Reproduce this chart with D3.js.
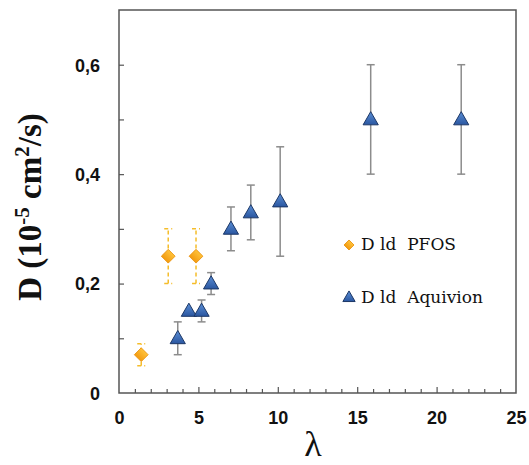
<!DOCTYPE html>
<html><head><meta charset="utf-8">
<script src="https://cdn.jsdelivr.net/npm/d3@7"></script>
<style>body{margin:0;background:#fff}svg{display:block}</style>
</head><body>
<script>
// Data
const pfosLambda = [1.4, 3.1, 4.85];
const pfosD      = [0.07, 0.25, 0.25];
const pfosErr    = [0.02, 0.05, 0.05];

const aqLambda = [3.7, 4.4, 5.2, 5.8, 7.05, 8.3, 10.15, 15.85, 21.55];
const aqD      = [0.10, 0.15, 0.15, 0.20, 0.30, 0.33, 0.35, 0.50, 0.50];
const aqErr    = [0.03, 0.0, 0.02, 0.02, 0.04, 0.05, 0.10, 0.10, 0.10];

const xTicks = [0, 5, 10, 15, 20, 25];
const yTicks = [0, 0.2, 0.4, 0.6];
const legendLabels = ["D ld  PFOS", "D ld  Aquivion"];

const W = 529, H = 465;
const mLeft = 119, mRight = 516, mTop = 10, mBottom = 393;

const svg = d3.select("body").append("svg").attr("width", W).attr("height", H);
const defs = svg.append("defs");
const g1 = defs.append("linearGradient").attr("id","triG").attr("x1",0).attr("y1",0).attr("x2",0).attr("y2",1);
g1.append("stop").attr("offset","0%").attr("stop-color","#5b8fd6");
g1.append("stop").attr("offset","100%").attr("stop-color","#2a56a0");
const g2 = defs.append("linearGradient").attr("id","diaG").attr("x1",0).attr("y1",0).attr("x2",0).attr("y2",1);
g2.append("stop").attr("offset","0%").attr("stop-color","#ffc23a");
g2.append("stop").attr("offset","100%").attr("stop-color","#f29a10");

const x = d3.scaleLinear().domain([0, 25]).range([mLeft, mRight]);
const y = d3.scaleLinear().domain([0, 0.7]).range([mBottom, mTop]);

const axisColor = "#555";
// frame
svg.append("rect").attr("x", mLeft).attr("y", mTop).attr("width", mRight-mLeft).attr("height", mBottom-mTop)
  .attr("fill","none").attr("stroke",axisColor).attr("stroke-width",1.5);

// x ticks (inward)
const xAxis = svg.append("g").attr("transform",`translate(0,${mBottom})`)
  .call(d3.axisTop(x).tickValues(d3.range(1, 25)).tickSize(4).tickFormat(""));
xAxis.select(".domain").remove();
xAxis.selectAll("line").attr("stroke",axisColor).attr("stroke-width",1.2)
  .attr("y2", d => d % 5 === 0 ? -6 : -4);
// x labels
const xLab = svg.append("g").attr("transform",`translate(0,${mBottom})`)
  .call(d3.axisBottom(x).tickValues(xTicks).tickSize(0).tickPadding(31).tickFormat(d3.format("d")));
xLab.select(".domain").remove();
xLab.selectAll("text").attr("font-family","Arial, 'Liberation Sans', sans-serif").attr("font-weight","bold")
  .attr("font-size",18).attr("fill","#111").attr("dy",0);

// y ticks (inward)
const yAxis = svg.append("g").attr("transform",`translate(${mLeft},0)`)
  .call(d3.axisRight(y).tickValues([0.1,0.2,0.3,0.4,0.5,0.6]).tickSize(5).tickFormat(""));
yAxis.select(".domain").remove();
yAxis.selectAll("line").attr("stroke",axisColor).attr("stroke-width",1.2);
const yLab = svg.append("g").attr("transform",`translate(${mLeft},0)`)
  .call(d3.axisLeft(y).tickValues(yTicks).tickSize(0).tickPadding(19)
    .tickFormat(d => d === 0 ? "0" : d3.format(".1f")(d).replace(".", ",")));
yLab.select(".domain").remove();
yLab.selectAll("text").attr("font-family","Arial, 'Liberation Sans', sans-serif").attr("font-weight","bold")
  .attr("font-size",18).attr("fill","#111").attr("dy","0.35em");

// axis titles
svg.append("text").attr("x", 313).attr("y", 456).attr("text-anchor","middle")
  .attr("font-family","'Liberation Serif', 'DejaVu Serif', serif").attr("font-size",36).attr("fill","#111")
  .text("λ");
const yt = svg.append("text").attr("transform","translate(41,207) rotate(-90)").attr("text-anchor","middle")
  .attr("font-family","'Liberation Serif', serif").attr("font-weight","bold").attr("font-size",33).attr("fill","#111");
yt.append("tspan").text("D (10");
yt.append("tspan").attr("dy",-12).attr("font-size",21).text("-5");
yt.append("tspan").attr("dy",12).text(" cm");
yt.append("tspan").attr("dy",-12).attr("font-size",21).text("2");
yt.append("tspan").attr("dy",12).text("/s)");

// error bars
function errBars(xs, ys, es, color, dash, cap) {
  const g = svg.append("g");
  xs.forEach((lx, i) => {
    if (es[i] <= 0) return;
    const cx = x(lx), y1 = y(ys[i] - es[i]), y2 = y(ys[i] + es[i]);
    g.append("line").attr("x1",cx).attr("x2",cx).attr("y1",y1).attr("y2",y2)
      .attr("stroke",color).attr("stroke-width",1.5).attr("stroke-dasharray",dash);
    [y1,y2].forEach(yy => g.append("line").attr("x1",cx-cap).attr("x2",cx+cap).attr("y1",yy).attr("y2",yy)
      .attr("stroke",color).attr("stroke-width",1.5).attr("stroke-dasharray",dash));
  });
}
errBars(aqLambda, aqD, aqErr, "#8c8c8c", null, 4);
errBars(pfosLambda, pfosD, pfosErr, "#f5bd2a", "4,3", 4);

const tri = d3.symbol().type(d3.symbolTriangle).size(100);
const dia = d3.symbol().type(d3.symbolSquare).size(95);

// PFOS diamonds
svg.append("g").selectAll("path").data(pfosLambda).join("path")
  .attr("d", dia)
  .attr("transform", (d,i) => `translate(${x(d)},${y(pfosD[i])}) rotate(45)`)
  .attr("fill","url(#diaG)").attr("stroke","#e8900a").attr("stroke-width",0.8);

// Aquivion triangles
svg.append("g").selectAll("path").data(aqLambda).join("path")
  .attr("d", tri)
  .attr("transform", (d,i) => `translate(${x(d)},${y(aqD[i])+1})`)
  .attr("fill","url(#triG)").attr("stroke","#1c3766").attr("stroke-width",1);

// legend
const lg = svg.append("g");
lg.append("path").attr("d", d3.symbol().type(d3.symbolSquare).size(50))
  .attr("transform","translate(349,245) rotate(45)").attr("fill","url(#diaG)").attr("stroke","#e8900a").attr("stroke-width",0.8);
lg.append("path").attr("d", d3.symbol().type(d3.symbolTriangle).size(65))
  .attr("transform","translate(349,298)").attr("fill","url(#triG)").attr("stroke","#1c3766").attr("stroke-width",1);
lg.selectAll("text").data(legendLabels).join("text")
  .attr("x", 361).attr("y", (d,i) => i === 0 ? 250 : 303)
  .attr("font-family","'DejaVu Serif', serif").attr("font-size",17).attr("fill","#111")
  .attr("xml:space","preserve").style("white-space","pre")
  .text(d => d);
</script>
</body></html>
